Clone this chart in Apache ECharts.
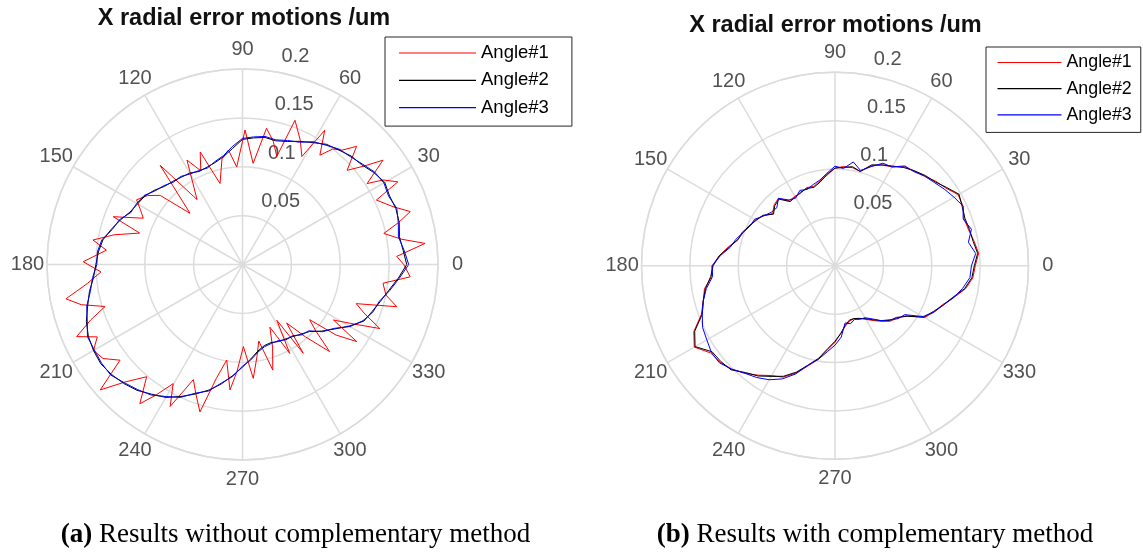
<!DOCTYPE html>
<html>
<head>
<meta charset="utf-8">
<script src="https://cdn.jsdelivr.net/npm/echarts@6/dist/echarts.min.js"></script>
<style>
  html, body { margin: 0; padding: 0; background: #fff; }
  #chart { width: 1143px; height: 555px; }
</style>
</head>
<body>
<div id="chart"></div>
<script>
// ---- tick labels ----
const angleTicks = [0, 30, 60, 90, 120, 150, 180, 210, 240, 270, 300, 330];
const radiusTicks = [0.05, 0.1, 0.15, 0.2];
const radiusTickText = ['0.05', '0.1', '0.15', '0.2'];
const seriesNames = ['Angle#1', 'Angle#2', 'Angle#3'];

// ---- (a) without complementary method: angle (deg) / radial error (um) ----
const leftAngle1 = [0, 3, 6.6, 9, 12.4, 15, 17.5, 21, 25.7, 28, 31, 33, 36.6, 39, 42, 46, 49, 52, 54.7, 58.5,
  61.2, 65, 70, 72.4, 76, 80, 84, 88.9, 93.4, 97, 101, 105.5, 110.6, 114, 118, 125, 129.7, 135.7, 140, 144,
  148.6, 152, 155, 159.7, 163, 167, 170.7, 174, 179, 183, 187, 191, 194, 197, 200, 203.5, 206.5, 210, 214, 218,
  221.4, 225, 229.5, 233.6, 236.5, 239.8, 243, 246.9, 250, 253.9, 257, 260.6, 264.3, 267, 270.6, 275.4, 279, 282, 286, 290,
  293.6, 298, 301.6, 304.4, 307, 311, 315, 318, 320.6, 323, 326, 328.6, 332, 335, 338, 341, 344.7, 348, 352.4, 355.8, 360];
const leftR1 = [0.165, 0.158, 0.188, 0.165, 0.148, 0.165, 0.180, 0.165, 0.152, 0.180, 0.168, 0.152, 0.179, 0.160, 0.144, 0.168, 0.155, 0.150, 0.137, 0.161,
  0.126, 0.140, 0.157, 0.116, 0.130, 0.1415, 0.104, 0.1376, 0.100, 0.118, 0.110, 0.086, 0.123, 0.105, 0.121, 0.081, 0.132, 0.075, 0.110, 0.120,
  0.127, 0.118, 0.112, 0.141, 0.110, 0.135, 0.155, 0.140, 0.163, 0.145, 0.160, 0.184, 0.170, 0.147, 0.165, 0.185, 0.166, 0.176, 0.172, 0.159,
  0.194, 0.170, 0.151, 0.177, 0.160, 0.141, 0.163, 0.128, 0.140, 0.157, 0.120, 0.099, 0.129, 0.110, 0.084, 0.117, 0.095, 0.080, 0.1124, 0.090,
  0.070, 0.103, 0.067, 0.110, 0.075, 0.098, 0.126, 0.100, 0.089, 0.120, 0.141, 0.109, 0.130, 0.155, 0.135, 0.123, 0.1636, 0.150, 0.145, 0.172, 0.165];

const stepAngles = [0, 5, 10, 15, 20, 25, 30, 35, 40, 45, 50, 55, 60, 65, 70, 75, 80, 85, 90, 95,
  100, 105, 110, 115, 120, 125, 130, 135, 140, 145, 150, 155, 160, 165, 170, 175, 180, 185, 190, 195,
  200, 205, 210, 215, 220, 225, 230, 235, 240, 245, 250, 255, 260, 265, 270, 275, 280, 285, 290, 295,
  300, 305, 310, 315, 320, 325, 330, 335, 340, 345, 350, 355];

const leftR2 = [0.168, 0.165, 0.163, 0.166, 0.167, 0.166, 0.168, 0.164, 0.159, 0.157,
  0.153, 0.150, 0.144, 0.139, 0.134, 0.131, 0.132, 0.130, 0.128, 0.119,
  0.112, 0.108, 0.106, 0.105, 0.108, 0.109, 0.111, 0.113, 0.118, 0.122,
  0.124, 0.127, 0.133, 0.139, 0.145, 0.148, 0.150, 0.153, 0.159, 0.164,
  0.170, 0.174, 0.176, 0.177, 0.175, 0.172, 0.168, 0.162, 0.157, 0.149,
  0.141, 0.133, 0.124, 0.114, 0.105, 0.097, 0.090, 0.086, 0.085, 0.087,
  0.088, 0.090, 0.093, 0.097, 0.106, 0.115, 0.126, 0.137, 0.141, 0.146,
  0.152, 0.160];

const leftR3 = [0.170, 0.166, 0.162, 0.165, 0.168, 0.165, 0.167, 0.165, 0.160, 0.156,
  0.154, 0.149, 0.145, 0.138, 0.135, 0.132, 0.133, 0.131, 0.129, 0.121,
  0.113, 0.109, 0.105, 0.106, 0.107, 0.110, 0.110, 0.114, 0.117, 0.123,
  0.125, 0.126, 0.134, 0.138, 0.146, 0.149, 0.149, 0.154, 0.158, 0.165,
  0.169, 0.175, 0.175, 0.176, 0.176, 0.171, 0.167, 0.163, 0.156, 0.150,
  0.140, 0.134, 0.123, 0.115, 0.104, 0.098, 0.091, 0.087, 0.086, 0.086,
  0.089, 0.089, 0.094, 0.096, 0.107, 0.114, 0.127, 0.136, 0.142, 0.145,
  0.153, 0.161];

// ---- (b) with complementary method ----
const rightR1 = [0.145, 0.149, 0.146, 0.143, 0.142, 0.146, 0.147, 0.140, 0.136, 0.131,
  0.128, 0.125, 0.118, 0.115, 0.110, 0.101, 0.103, 0.103, 0.101, 0.094,
  0.089, 0.085, 0.086, 0.083, 0.083, 0.082, 0.091, 0.089, 0.084, 0.090,
  0.095, 0.097, 0.102, 0.104, 0.112, 0.120, 0.127, 0.128, 0.137, 0.141,
  0.147, 0.161, 0.168, 0.157, 0.155, 0.151, 0.145, 0.138, 0.131, 0.127,
  0.118, 0.107, 0.098, 0.087, 0.079, 0.070, 0.063, 0.059, 0.058, 0.060,
  0.064, 0.069, 0.075, 0.081, 0.084, 0.090, 0.107, 0.113, 0.118, 0.127,
  0.137, 0.143];

const rightR2 = [0.144, 0.148, 0.145, 0.144, 0.143, 0.145, 0.148, 0.141, 0.135, 0.132,
  0.128, 0.124, 0.119, 0.115, 0.111, 0.101, 0.104, 0.102, 0.101, 0.095,
  0.088, 0.084, 0.085, 0.084, 0.082, 0.081, 0.090, 0.088, 0.083, 0.091,
  0.094, 0.098, 0.101, 0.104, 0.111, 0.120, 0.126, 0.129, 0.136, 0.141,
  0.146, 0.160, 0.167, 0.155, 0.154, 0.152, 0.144, 0.139, 0.132, 0.126,
  0.117, 0.106, 0.097, 0.086, 0.078, 0.070, 0.062, 0.058, 0.058, 0.060,
  0.063, 0.068, 0.074, 0.080, 0.083, 0.091, 0.106, 0.112, 0.119, 0.126,
  0.136, 0.142];

const rightR3 = [0.141, 0.146, 0.140, 0.146, 0.141, 0.146, 0.142, 0.138, 0.134, 0.131,
  0.127, 0.126, 0.118, 0.117, 0.109, 0.102, 0.109, 0.101, 0.103, 0.096,
  0.090, 0.087, 0.084, 0.086, 0.081, 0.083, 0.091, 0.085, 0.086, 0.090,
  0.096, 0.097, 0.101, 0.106, 0.110, 0.119, 0.127, 0.127, 0.135, 0.141,
  0.146, 0.151, 0.153, 0.156, 0.156, 0.151, 0.145, 0.141, 0.136, 0.129,
  0.119, 0.106, 0.098, 0.089, 0.082, 0.074, 0.060, 0.062, 0.059, 0.061,
  0.062, 0.067, 0.074, 0.079, 0.085, 0.088, 0.105, 0.113, 0.119, 0.127,
  0.134, 0.140];

// ---- styling ----
const colors = ['#ff0000', '#000000', '#0000ff'];
const gridColor = '#dcdcdc';
const sans = '"Liberation Sans", Arial, Helvetica, sans-serif';
const serif = '"Liberation Serif", "Times New Roman", serif';
const labelRadius = 0.22;       // angle labels sit at 1.1 x outer ring
const radLabelAngle = 82;       // radial tick labels run along this direction
const radLabelLift = 0.0025;

// polar data items are [radius, angle]; close each trace on itself
function closed(angles, radii) {
  const pts = angles.map((a, i) => [radii[i], a]);
  if (angles[angles.length - 1] !== 360) pts.push([radii[0], 360]);
  return pts;
}

function traces(polarIndex, sets) {
  return sets.map((s, i) => ({
    name: seriesNames[i],
    type: 'line',
    coordinateSystem: 'polar',
    polarIndex: polarIndex,
    data: closed(s[0], s[1]),
    symbol: 'none',
    smooth: false,
    clip: false,
    lineStyle: { color: colors[i], width: 1 },
    itemStyle: { color: colors[i] },
    z: 3 + i
  }));
}

function tickLabels(polarIndex) {
  return [{
    type: 'scatter', coordinateSystem: 'polar', polarIndex: polarIndex,
    name: 'angle ticks', silent: true, clip: false,
    data: angleTicks.map(a => [labelRadius, a]),
    symbolSize: 1, itemStyle: { color: 'rgba(0,0,0,0)' },
    label: {
      show: true, position: 'inside', align: 'center', verticalAlign: 'middle',
      formatter: p => String(angleTicks[p.dataIndex]),
      fontFamily: sans, fontSize: 20, color: '#262626'
    },
    z: 2
  }, {
    type: 'scatter', coordinateSystem: 'polar', polarIndex: polarIndex,
    name: 'radius ticks', silent: true, clip: false,
    data: radiusTicks.map(v => [v + radLabelLift, radLabelAngle]),
    symbolSize: 1, itemStyle: { color: 'rgba(0,0,0,0)' },
    label: {
      show: true, position: [12, -1.5], align: 'left', verticalAlign: 'bottom',
      formatter: p => radiusTickText[p.dataIndex],
      fontFamily: sans, fontSize: 20, color: '#262626'
    },
    z: 2
  }];
}

function angleAxis(polarIndex) {
  return {
    polarIndex: polarIndex, type: 'value', min: 0, max: 360, interval: 30,
    startAngle: 0, clockwise: false,
    axisLine: { show: true, lineStyle: { color: gridColor, width: 1.5 } },
    axisTick: { show: false }, axisLabel: { show: false },
    splitLine: { show: true, lineStyle: { color: gridColor, width: 1.5 } }
  };
}

function radiusAxis(polarIndex) {
  return {
    polarIndex: polarIndex, type: 'value', min: 0, max: 0.2, interval: 0.05,
    axisLine: { show: false }, axisTick: { show: false }, axisLabel: { show: false },
    splitLine: { show: true, lineStyle: { color: gridColor, width: 1.5 } }
  };
}

function legend(box) {
  return {
    show: true, type: 'plain',
    data: seriesNames.slice(), orient: 'vertical', left: box.left, top: box.top,
    padding: box.padding, itemWidth: box.itemWidth, itemHeight: 1.2, itemGap: box.gap,
    icon: 'rect',
    selectedMode: false,
    borderColor: '#262626', borderWidth: 1, backgroundColor: '#fff',
    textStyle: { fontFamily: sans, fontSize: box.fontSize, color: '#000' }
  };
}

const chart = echarts.init(document.getElementById('chart'), null, { renderer: 'canvas' });
chart.setOption({
  animation: false,
  backgroundColor: '#fff',
  polar: [
    { center: [242.5, 264.5], radius: 195.5 },
    { center: [835, 265.8], radius: 193.5 }
  ],
  angleAxis: [angleAxis(0), angleAxis(1)],
  radiusAxis: [radiusAxis(0), radiusAxis(1)],
  legend: [
    legend({ left: 385, top: 37, padding: [6.5, 23, 9, 14], itemWidth: 77, gap: 8.3, fontSize: 18.5 }),
    legend({ left: 986, top: 47, padding: [6.5, 9, 8.5, 11.5], itemWidth: 64, gap: 8.2, fontSize: 17.8 })
  ],
  series: [].concat(
    tickLabels(0), tickLabels(1),
    traces(0, [[leftAngle1, leftR1], [stepAngles, leftR2], [stepAngles, leftR3]]),
    traces(1, [[stepAngles, rightR1], [stepAngles, rightR2], [stepAngles, rightR3]])
  ),
  graphic: [
    { type: 'text', x: 244, y: 18.3, style: { text: 'X radial error motions /um', font: 'bold 23.5px ' + sans, fill: '#111', align: 'center', verticalAlign: 'middle' } },
    { type: 'text', x: 835.5, y: 25.8, style: { text: 'X radial error motions /um', font: 'bold 23.5px ' + sans, fill: '#111', align: 'center', verticalAlign: 'middle' } },
    { type: 'text', x: 295.5, y: 535, style: { text: '{b|(a)} Results without complementary method', font: '27px ' + serif, fill: '#000', align: 'center', verticalAlign: 'middle', rich: { b: { fontWeight: 'bold', fontSize: 27, fontFamily: serif } } } },
    { type: 'text', x: 875, y: 535, style: { text: '{b|(b)} Results with complementary method', font: '27px ' + serif, fill: '#000', align: 'center', verticalAlign: 'middle', rich: { b: { fontWeight: 'bold', fontSize: 27, fontFamily: serif } } } }
  ]
});
</script>
</body>
</html>
